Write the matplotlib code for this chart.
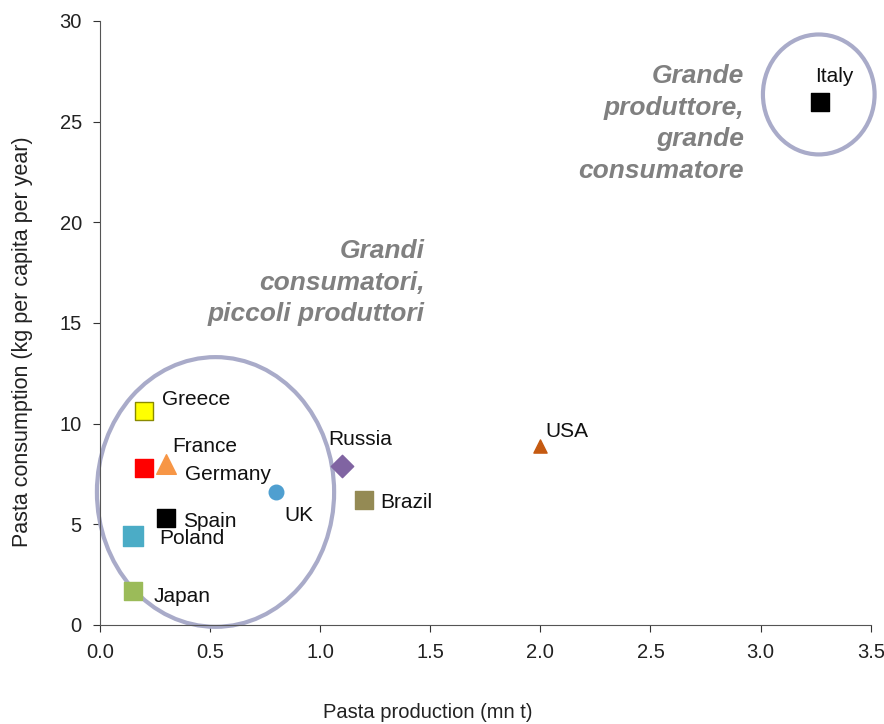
import matplotlib
matplotlib.use('Agg')
import matplotlib.pyplot as plt
from matplotlib.patches import Ellipse

plt.rcParams['font.family'] = ['Liberation Sans', 'DejaVu Sans']

# dati
countries = ['Greece', 'France', 'Germany', 'UK', 'Spain', 'Poland', 'Japan',
             'Russia', 'Brazil', 'USA', 'Italy']
production = [0.2, 0.2, 0.3, 0.8, 0.3, 0.15, 0.15, 1.1, 1.2, 2.0, 3.27]
consumption = [10.6, 7.8, 8.0, 6.6, 5.3, 4.4, 1.7, 7.9, 6.2, 8.9, 26.0]

markers = ['s', 's', '^', 'o', 's', 's', 's', 'D', 's', '^', 's']
colors = ['#ffff00', '#ff0000', '#f79646', '#4f9fd0', '#000000', '#4bacc6',
          '#9bbb59', '#8064a2', '#948a54', '#c55a11', '#000000']
edges = ['#8a8a00', '#ff0000', '#f79646', '#4f9fd0', '#000000', '#4bacc6',
         '#9bbb59', '#8064a2', '#948a54', '#c55a11', '#000000']
sizes = [170, 160, 200, 110, 160, 200, 180, 130, 160, 90, 150]
# spostamento delle etichette (pixel)
offsets = [(18, 12), (28, 21), (19, -11), (8, -24), (17, -3), (26, -2),
           (21, -6), (-14, 26), (16, -2), (5, 14), (-5, 25)]

xticks = [0.0, 0.5, 1.0, 1.5, 2.0, 2.5, 3.0, 3.5]
yticks = [0, 5, 10, 15, 20, 25, 30]

fig = plt.figure(figsize=(8.84, 7.24), dpi=100)
ax = fig.add_axes([0.113, 0.137, 0.872, 0.834])

for i, c in enumerate(countries):
    ax.scatter(production[i], consumption[i], marker=markers[i], s=sizes[i],
               color=colors[i], edgecolors=edges[i], linewidths=1, zorder=3)
    ax.annotate(c, (production[i], consumption[i]), xytext=offsets[i],
                textcoords='offset pixels', fontsize=15, va='center',
                ha='left', color='#111111', zorder=4)

ax.set_xlim(0, 3.5)
ax.set_ylim(0, 30)
ax.set_xticks(xticks)
ax.set_xticklabels([f'{t:.1f}' for t in xticks])
ax.set_yticks(yticks)
ax.tick_params(direction='out', length=5, labelsize=14.5, colors='#333333',
               labelcolor='#222222')
ax.tick_params(axis='x', pad=8)
ax.tick_params(axis='y', pad=8)
for s in ['top', 'right']:
    ax.spines[s].set_visible(False)
for s in ['left', 'bottom']:
    ax.spines[s].set_color('#555555')

# cerchi di evidenziazione
ring = '#a9abc9'
ax.add_patch(Ellipse((0.525, 6.6), 1.077, 13.4, fill=False, edgecolor=ring,
                     linewidth=3, clip_on=False, zorder=2))
ax.add_patch(Ellipse((3.264, 26.35), 0.507, 5.96, fill=False, edgecolor=ring,
                     linewidth=3, clip_on=False, zorder=2))

ax.text(1.475, 17.0, 'Grandi\nconsumatori,\npiccoli produttori', ha='right',
        va='center', fontsize=19, fontweight='bold', fontstyle='italic',
        color='#808080', linespacing=1.4)
ax.text(2.925, 24.9, 'Grande\nproduttore,\ngrande\nconsumatore', ha='right',
        va='center', fontsize=19, fontweight='bold', fontstyle='italic',
        color='#808080', linespacing=1.4)

fig.text(428 / 884, 1 - 713 / 724, 'Pasta production (mn t)', ha='center',
         va='center', fontsize=14.5, color='#222222')
fig.text(23 / 884, 1 - 342 / 724, 'Pasta consumption (kg per capita per year)',
         ha='center', va='center', rotation=90, fontsize=15.5, color='#222222')

fig.savefig('out.png', dpi=100)
